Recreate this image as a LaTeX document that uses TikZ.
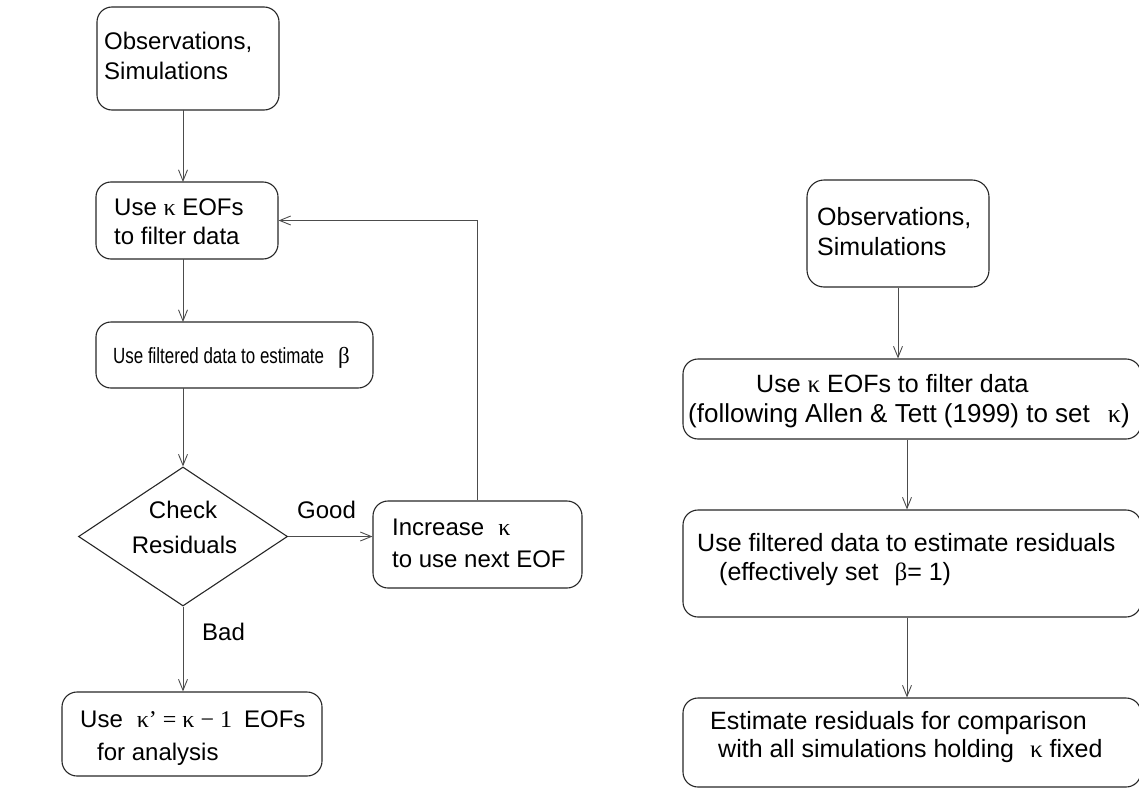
\documentclass[tikz,border=0pt]{standalone}
\usepackage{fontspec}
\setmainfont{Liberation Sans}
\newfontfamily\grk{Liberation Serif}
\newfontfamily\narrowsans[FakeStretch=0.77]{Liberation Sans}
\usetikzlibrary{arrows.meta,shapes.geometric}
\begin{document}
\begin{tikzpicture}[x=1pt,y=-1pt,
  box/.style={draw=black!85,line width=1.1pt,rounded corners=15pt,inner sep=0pt},
  txt/.style={anchor=base west,inner sep=0pt,font=\fontsize{24}{28}\selectfont},
  rtxt/.style={anchor=base west,inner sep=0pt,font=\fontsize{25}{28}\selectfont},
  ctxt/.style={anchor=base,inner sep=0pt,font=\fontsize{24}{28}\selectfont},
  conn/.style={draw=black!70,line width=1pt},
  arr/.style={conn,-{Straight Barb[length=11pt,width=9pt,line width=0.9pt]}}]
\useasboundingbox (0,0) rectangle (1139,789);
% ---------- left chart ----------
\node[box,minimum width=182,minimum height=103] (o1) at (188,58.5) {};
\node[txt] (o1a) at (104,50) {Observations,};
\node[txt] (o1b) at (104,80) {Simulations};
\node[box,minimum width=182,minimum height=77] (u2) at (187,220.5) {};
\node[txt] (u2a) at (114,215) {Use {\grk κ} EOFs};
\node[txt] (u2b) at (114,244) {to filter data};
\node[box,minimum width=277,minimum height=66] (fb) at (234.5,355) {};
\node[txt,font=\fontsize{22}{24}\narrowsans] (fba) at (113,363) {Use filtered data to estimate\hspace{14pt}{\grk\fontsize{23}{24}\selectfont β}};
\node[draw=black!85,line width=1.1pt,shape=diamond,inner sep=0pt,minimum width=209,minimum height=139] (ck) at (183,536.5) {};
\node[ctxt] (cka) at (183,518) {Check};
\node[ctxt] (ckb) at (184.5,553) {Residuals};
\node[box,minimum width=209,minimum height=87] (inc) at (477.5,544.5) {};
\node[txt] (inca) at (392,535) {Increase\hspace{14pt}{\grk κ}};
\node[txt] (incb) at (392,567) {to use next EOF};
\node[box,minimum width=260,minimum height=84] (an) at (192,734) {};
\node[txt] (ana) at (80,727) {Use\hspace{14pt}{\grk κ’ = κ − 1}\hspace{12pt}EOFs};
\node[txt] (anb) at (97,760) {for analysis};
\node[txt] (good) at (297,518) {Good};
\node[txt] (bad) at (202,640) {Bad};
\draw[arr] (183,110) -- (183,182);
\draw[arr] (183,259) -- (183,322);
\draw[arr] (183,388) -- (ck.north);
\draw[arr] (ck.east) -- (inc.west |- ck.east);
\draw[arr] (inc.north) |- (u2.east);
\draw[arr] (ck.south) -- (ck.south |- an.north);
% ---------- right chart ----------
\node[box,minimum width=182,minimum height=107,rounded corners=17pt] (r1) at (898,233.5) {};
\node[rtxt] (r1a) at (817,225) {Observations,};
\node[rtxt] (r1b) at (817,255) {Simulations};
\node[box,minimum width=458,minimum height=80] (r2) at (912,399) {};
\node[rtxt] (r2a) at (756,392) {Use {\grk κ} EOFs to filter data};
\node[rtxt,font=\fontsize{26}{28}\selectfont] (r2b) at (688,422) {(following Allen \& Tett (1999) to set\hspace{18pt}{\grk κ})};
\node[box,minimum width=458,minimum height=107] (r3) at (912,563.5) {};
\node[rtxt] (r3a) at (697,551) {Use filtered data to estimate residuals};
\node[rtxt] (r3b) at (719,580) {(effectively set\hspace{16pt}{\grk β}= 1)};
\node[box,minimum width=458,minimum height=89] (r4) at (912,742.5) {};
\node[rtxt] (r4a) at (710,729) {Estimate residuals for comparison};
\node[rtxt] (r4b) at (718,757) {with all simulations holding\hspace{16pt}{\grk κ} fixed};
\draw[arr] (r1.south) -- (r1.south |- r2.north);
\draw[arr] ([xshift=-5pt]r2.south) -- ([xshift=-5pt]r3.north);
\draw[arr] ([xshift=-5pt]r3.south) -- ([xshift=-5pt]r4.north);
\end{tikzpicture}
\end{document}
